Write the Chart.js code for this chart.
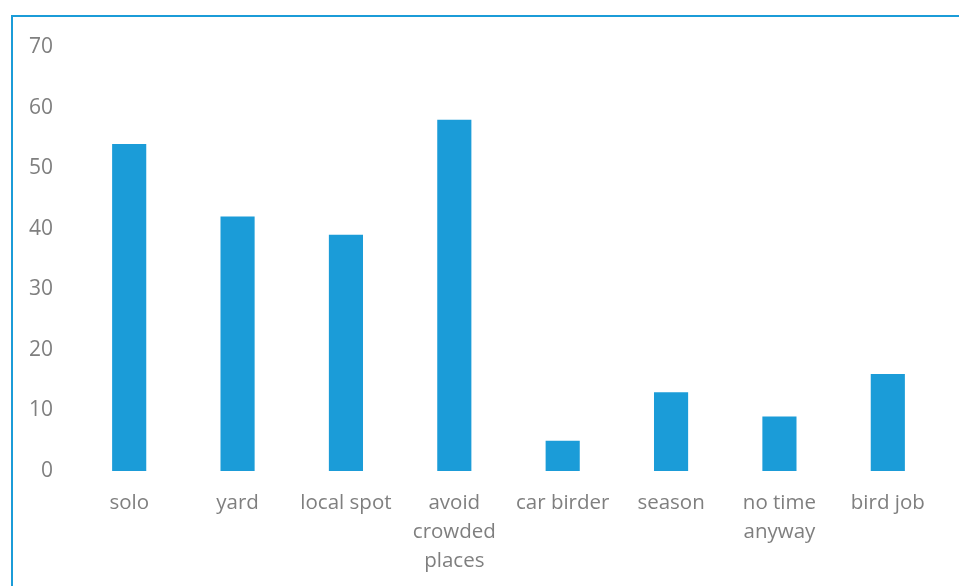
<!DOCTYPE html>
<html>
<head>
<meta charset="utf-8">
<script src="https://cdn.jsdelivr.net/npm/chart.js@4"></script>
<style>
  html, body { margin: 0; padding: 0; background: #fff; overflow: hidden; }
  #frame { position: absolute; left: 11px; top: 15px; width: 1000px; height: 700px; border: 2px solid #1B9CD8; }
  #theChart { position: absolute; left: 0; top: 0; }
</style>
</head>
<body>
<div id="frame"></div>
<canvas id="theChart" width="959" height="586"></canvas>
<script>
// survey answers, one bar each
var categories = ['solo', 'yard', 'local spot', ['avoid', 'crowded', 'places'], 'car birder', 'season', ['no time', 'anyway'], 'bird job'];
var counts = [54, 42, 39, 58, 5, 13, 9, 16];
var yTicks = [0, 10, 20, 30, 40, 50, 60, 70];

var barColor = '#1B9CD8';
var textColor = '#7F7F7F';

var ctx = document.getElementById('theChart').getContext('2d');
var chart = new Chart(ctx, {
  type: 'bar',
  data: {
    labels: categories,
    datasets: [{
      data: counts,
      backgroundColor: barColor,
      borderWidth: 0,
      barPercentage: 0.315,
      categoryPercentage: 1
    }]
  },
  options: {
    responsive: false,
    animation: false,
    layout: { padding: { top: 47, right: 17, bottom: 0, left: 0 } },
    plugins: { legend: { display: false }, tooltip: { enabled: false } },
    scales: {
      x: {
        grid: { display: false },
        border: { display: false },
        afterFit: function (scale) { scale.height = 115; },
        ticks: {
          color: textColor,
          font: { family: 'Open Sans', size: 20.5, lineHeight: 1.415 },
          maxRotation: 0,
          autoSkip: false,
          padding: 10
        }
      },
      y: {
        min: yTicks[0],
        max: yTicks[yTicks.length - 1],
        grid: { display: false },
        border: { display: false },
        afterBuildTicks: function (scale) {
          scale.ticks = yTicks.map(function (v) { return { value: v }; });
        },
        afterFit: function (scale) { scale.width = 75; },
        ticks: {
          color: textColor,
          font: { family: 'Open Sans', size: 21 },
          padding: 14
        }
      }
    }
  }
});
</script>
</body>
</html>
